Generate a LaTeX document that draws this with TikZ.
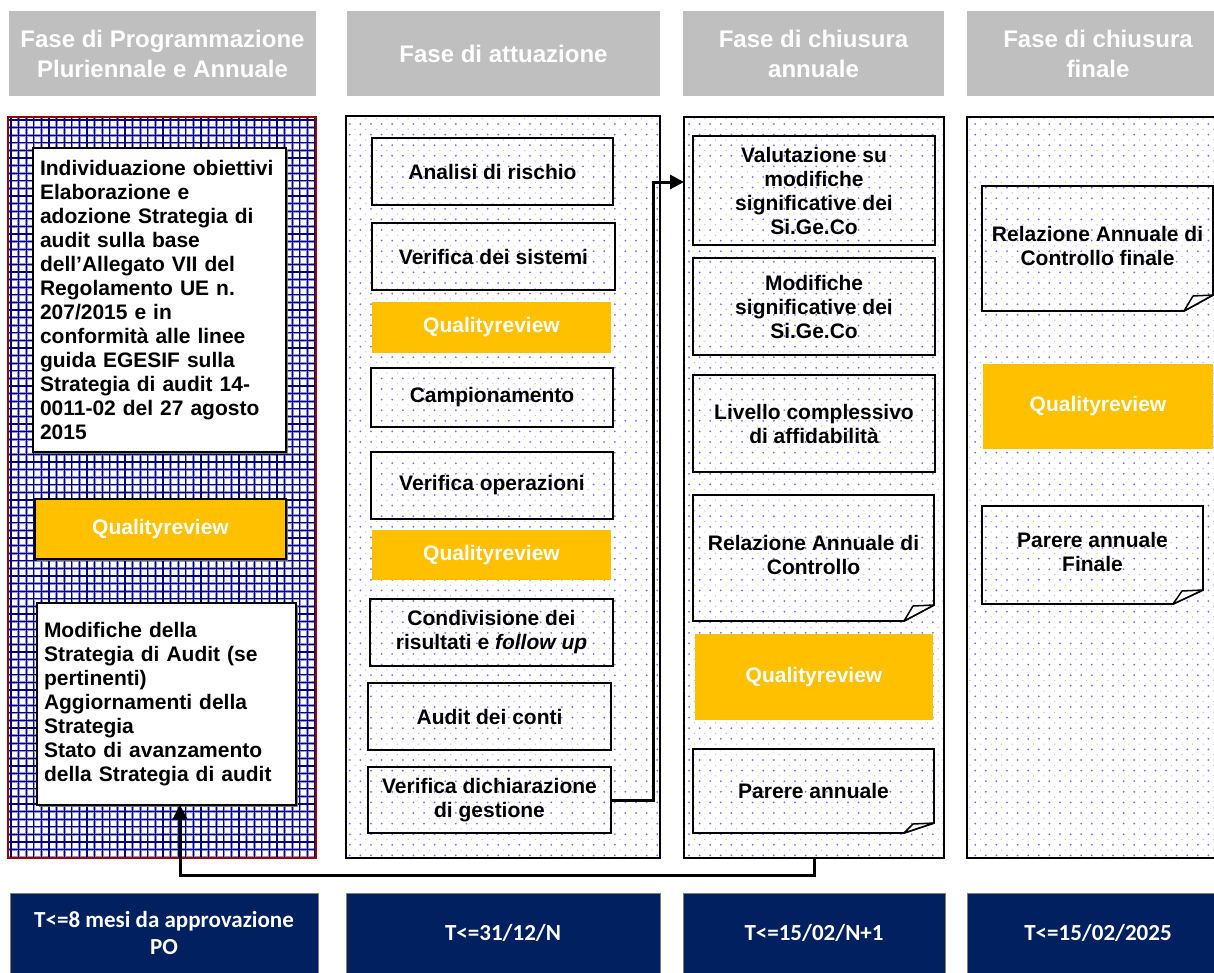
\documentclass[tikz,border=0pt]{standalone}
\usepackage{fontspec}
\setmainfont{Liberation Sans}
\newfontfamily\cfont{Carlito}
\usetikzlibrary{arrows.meta,patterns.meta,shadows}

\definecolor{hdrgray}{HTML}{BFBFBF}
\definecolor{qrorange}{HTML}{FFC000}
\definecolor{navyb}{HTML}{002060}
\definecolor{gridblue}{HTML}{000080}
\definecolor{gridhalo}{HTML}{9090D8}
\definecolor{dotblue}{HTML}{7070F0}
\definecolor{dotlight}{HTML}{B8B8F4}
\definecolor{frred}{HTML}{990000}

\newcommand\bodyf{\fontsize{21}{24}\selectfont\bfseries}
\newcommand\hdrf{\fontsize{24}{30}\selectfont\bfseries}
\newcommand\datef{\cfont\fontsize{23}{27}\selectfont\bfseries}

\newcommand\drawnote[3]{%
  \draw[line width=1.8pt, line join=miter]
    (#1.north west) -- (#1.north east) -- ([yshift=#3]#1.south east)
    -- ([xshift=-#2]#1.south east) -- (#1.south west) -- cycle;
  \draw[line width=1.5pt, fill=white, line join=round]
    ([xshift=-#2]#1.south east) -- ([xshift=-#2+9pt, yshift=#3-1pt]#1.south east)
    -- ([yshift=#3]#1.south east) -- cycle;}

\tikzset{
  place/.style n args={4}{at={({(#1+#3)/2},{(#2+#4)/2})},
    minimum width={#3-#1}, minimum height={#4-#2}},
  every node/.style={inner sep=0pt, outer sep=0pt},
  hdr/.style={fill=hdrgray, text=white, font=\hdrf, align=center},
  colframe/.style={draw, line width=1.8pt,
    pattern={Dots[distance=10.6pt, radius=1pt]}, pattern color=dotblue,
    postaction={pattern={Dots[distance=10.6pt, radius=0.7pt, xshift=5.3pt, yshift=5.3pt]}, pattern color=dotlight}},
  tbox/.style={draw, line width=1.8pt, font=\bodyf, align=center},
  wbox/.style={tbox, fill=white, drop shadow={shadow xshift=2pt, shadow yshift=-2pt, fill=black!55, opacity=0.9}},
  qr/.style={fill=qrorange, text=white, font=\bodyf, align=center},
  notebox/.style={font=\bodyf, align=center},
  datebox/.style={fill=navyb, draw=gray, line width=0.8pt, text=white, font=\datef, align=center},
  conn/.style={draw, line width=3pt, -{Triangle[length=14pt, width=14pt]}},
  halo/.style={draw=gridhalo, line width=2.6pt},
  core/.style={draw=gridblue, line width=1.1pt}
}

\begin{document}
\begin{tikzpicture}[x=1pt, y=-1pt]
\useasboundingbox (0,0) rectangle (1214,972);
\clip (0,0) rectangle (1214,972);

% headers
\node[hdr, place={9}{11}{316}{96}] (h1) {Fase di Programmazione\\Pluriennale e Annuale};
\node[hdr, place={347}{11}{660}{96}] (h2) {Fase di attuazione};
\node[hdr, place={683}{11}{944}{96}] (h3) {Fase di chiusura\\annuale};
\node[hdr, place={967}{11}{1229}{96}] (h4) {Fase di chiusura\\finale};

% column frames
\node[fill=white, place={8}{117}{316}{858}] (col1) {};
\begin{scope}
  \clip (col1.north west) rectangle (col1.south east);
  \foreach \i in {0,...,41} {
    \draw[halo] ({11+\i*7.6},117) -- ++(0,741);
  }
  \foreach \j in {0,...,98} {
    \draw[halo] (8,{120+\j*7.6}) -- ++(308,0);
  }
  \foreach \i in {0,...,41} {
    \draw[core] ({11+\i*7.6},117) -- ++(0,741);
  }
  \foreach \j in {0,...,98} {
    \draw[core] (8,{120+\j*7.6}) -- ++(308,0);
  }
\end{scope}
\draw[frred, line width=1.2pt] (col1.north west) rectangle (col1.south east);
\node[colframe, place={346}{116}{660}{858}] (col2) {};
\node[colframe, place={684}{117}{944}{858}] (col3) {};
\node[colframe, place={967}{117}{1232}{858}] (col4) {};

% column 1
\node[wbox, place={33}{148}{286}{452}, align=left, text width=239pt] (c1a)
 {Individuazione obiettivi\\Elaborazione e\\adozione Strategia di\\audit sulla base\\dell’Allegato VII del\\Regolamento UE n.\\207/2015 e in\\conformità alle linee\\guida EGESIF sulla\\Strategia di audit 14-\\0011-02 del 27 agosto\\2015};
\node[qr, draw=black, line width=1.6pt, drop shadow={shadow xshift=2pt, shadow yshift=-2pt, fill=black!55, opacity=0.9}, place={35}{499}{286}{559}] (c1qr) {Qualityreview};
\node[wbox, place={37}{603}{296}{805}, align=left, text width=245pt] (c1b)
 {Modifiche della\\Strategia di Audit (se\\pertinenti)\\Aggiornamenti della\\Strategia\\Stato di avanzamento\\della Strategia di audit};

% column 2
\node[tbox, place={372}{138}{613}{205}] (ar) {Analisi di rischio};
\node[tbox, place={372}{223}{615}{290}] (vs) {Verifica dei sistemi};
\node[qr, place={372}{302}{611}{353}] (qr2a) {Qualityreview};
\node[tbox, place={371}{368}{613}{427}] (camp) {Campionamento};
\node[tbox, place={371}{452}{613}{519}] (vo) {Verifica operazioni};
\node[qr, place={372}{530}{611}{580}] (qr2b) {Qualityreview};
\node[tbox, place={370}{599}{613}{666}] (cond) {Condivisione dei\\risultati e \textit{follow up}};
\node[tbox, place={368}{683}{611}{750}] (adc) {Audit dei conti};
\node[tbox, place={368}{767}{611}{833}] (vdg) {Verifica dichiarazione\\di gestione};

% column 3
\node[tbox, place={693}{136}{935}{245}] (val) {Valutazione su\\modifiche\\significative dei\\Si.Ge.Co};
\node[tbox, place={693}{258}{935}{355}] (mod) {Modifiche\\significative dei\\Si.Ge.Co};
\node[tbox, place={693}{375}{935}{472}] (liv) {Livello complessivo\\di affidabilità};
\node[notebox, place={693}{495}{934}{621}] (rac) {\raisebox{4pt}{\begin{tabular}{@{}c@{}}Relazione Annuale di\\Controllo\end{tabular}}};
\drawnote{rac}{30pt}{16pt}
\node[qr, place={695}{634}{933}{720}] (qr3) {Qualityreview};
\node[notebox, place={693}{749}{934}{833}] (pa) {\raisebox{-11pt}{Parere annuale}};
\drawnote{pa}{30pt}{10pt}

% column 4
\node[notebox, place={982}{186}{1213}{311}] (racf) {\raisebox{5pt}{\begin{tabular}{@{}c@{}}Relazione Annuale di\\Controllo finale\end{tabular}}};
\drawnote{racf}{29pt}{16pt}
\node[qr, place={983}{364}{1213}{449}] (qr4) {Qualityreview};
\node[notebox, place={982}{506}{1203}{604}] (paf) {\raisebox{5pt}{\begin{tabular}{@{}c@{}}Parere annuale\\Finale\end{tabular}}};
\drawnote{paf}{30pt}{14pt}

% bottom dates
\node[datebox, place={10}{893}{318}{973}] (d1) {T<=8 mesi da approvazione\\PO};
\node[datebox, place={346}{893}{660}{973}] (d2) {T<=31/12/N};
\node[datebox, place={683}{893}{945}{973}] (d3) {T<=15/02/N+1};
\node[datebox, place={967}{893}{1229}{973}] (d4) {T<=15/02/2025};

% connectors
\coordinate (turn) at (653,182);
\draw[conn] (vdg.east) -| (turn) -- (col3.west |- turn);
\coordinate (low) at (180,875);
\draw[conn] (col3.south) |- (low) -- (low |- c1b.south);
\end{tikzpicture}
\end{document}
